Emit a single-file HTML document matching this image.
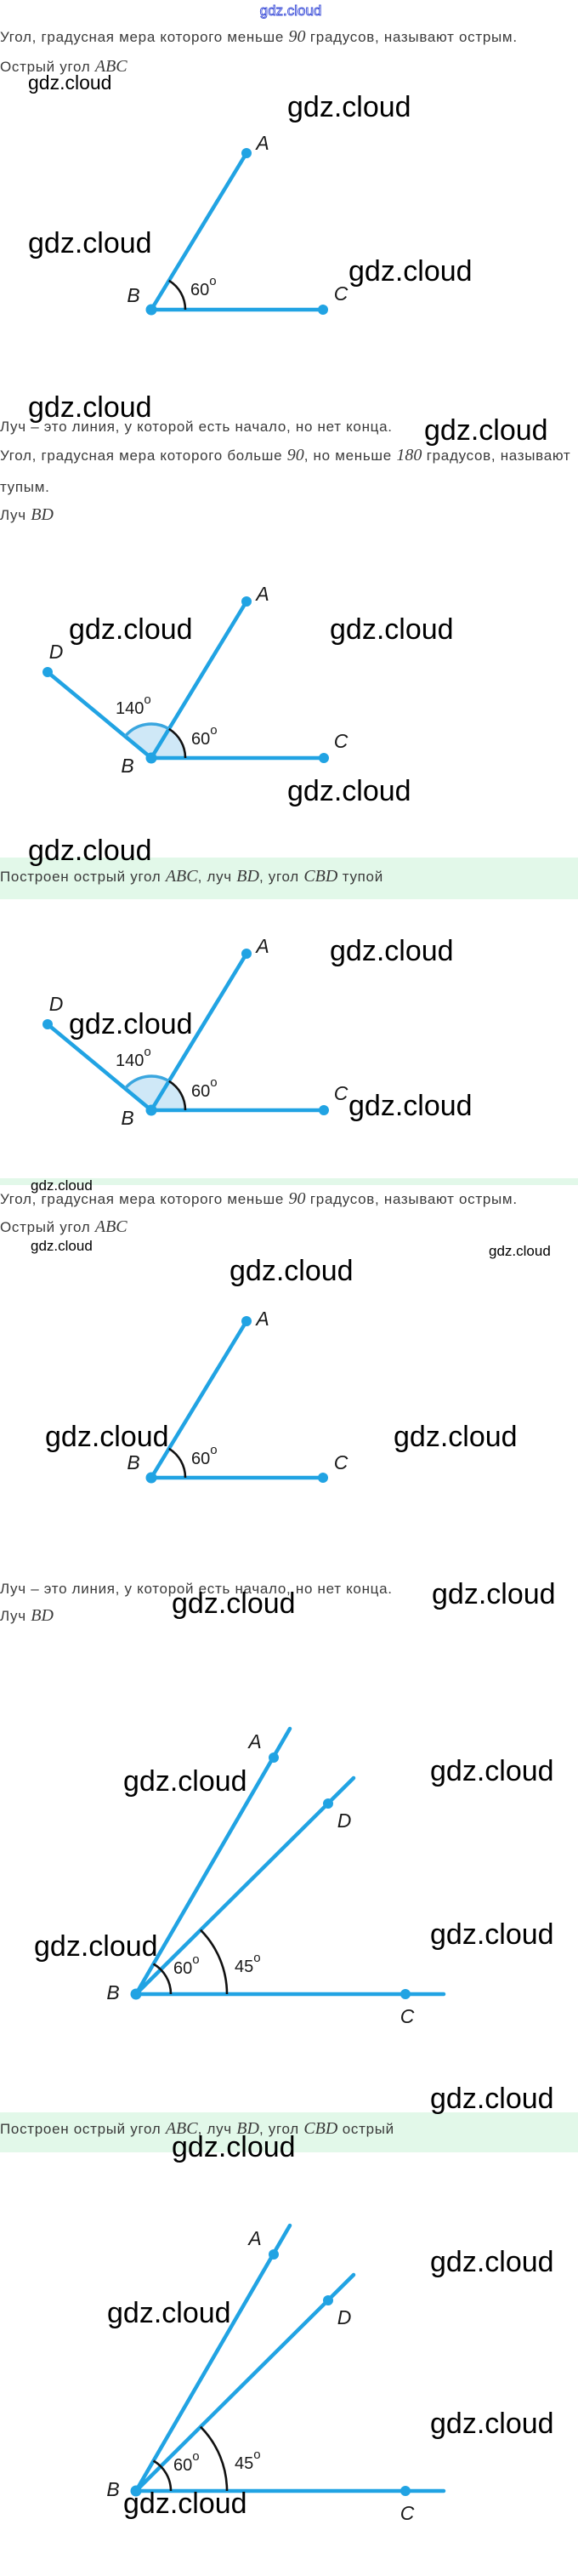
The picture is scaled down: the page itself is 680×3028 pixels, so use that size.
<!DOCTYPE html>
<html><head><meta charset="utf-8"><style>
html,body{margin:0;padding:0;background:#fff;}
svg{display:block;}
.t{font-family:"Liberation Sans","Noto Sans CJK SC",sans-serif;font-size:17px;letter-spacing:0.7px;fill:#3a3a3a;}
.m{font-family:"Liberation Serif",serif;font-style:italic;font-size:20px;letter-spacing:0;fill:#3a3a3a;}
.w{font-family:"Liberation Sans",sans-serif;fill:#000;}
.L{font-family:"Liberation Sans",sans-serif;font-style:italic;font-size:23px;fill:#1a1a1a;text-anchor:middle;}
.d{font-family:"Liberation Sans",sans-serif;font-size:20px;fill:#1a1a1a;}
.ln{stroke:#21a3e3;stroke-width:4.5;stroke-linecap:round;fill:none;}
.dot{fill:#21a3e3;}
.ar{stroke:#111;stroke-width:2.6;fill:none;}
</style></head><body>
<svg width="680" height="3028" viewBox="0 0 680 3028" xmlns="http://www.w3.org/2000/svg">
<defs>
<g id="d1">
 <path class="ln" d="M178 364 L290 180 M178 364 L380 364"/>
 <circle class="dot" cx="290" cy="180" r="6"/><circle class="dot" cx="178" cy="364" r="6.5"/><circle class="dot" cx="380" cy="364" r="6"/>
 <path class="ar" d="M218 364 A40 40 0 0 0 198.8 329.8"/>
</g>
<g id="d2">
 <path d="M178 891 L218 891 A40 40 0 0 0 147.2 865.5 Z" fill="#cfe8f7"/>
 <path class="ln" d="M178 891 L290 707 M178 891 L381 891 M178 891 L56 790"/>
 <circle class="dot" cx="290" cy="707" r="6"/><circle class="dot" cx="178" cy="891" r="6.5"/><circle class="dot" cx="381" cy="891" r="6"/><circle class="dot" cx="56" cy="790" r="6"/>
 <path d="M198.8 856.8 A40 40 0 0 0 147.2 865.5" stroke="#3aa6df" stroke-width="3.5" fill="none"/>
 <path class="ar" d="M218 891 A40 40 0 0 0 198.8 856.8"/>
 <text class="L" x="309" y="706">A</text><text class="L" x="66" y="774">D</text>
 <text class="L" x="401" y="879">C</text><text class="L" x="150" y="908">B</text>
 <text class="d" x="136" y="839">140<tspan dy="-12" font-size="15">o</tspan></text>
 <text class="d" x="225" y="875">60<tspan dy="-12" font-size="15">o</tspan></text>
</g>
<g id="d5">
 <path class="ln" d="M160 2344 L341 2032 M160 2344 L416 2090 M160 2344 L522 2344"/>
 <circle class="dot" cx="322" cy="2066" r="6"/><circle class="dot" cx="386" cy="2120" r="6"/><circle class="dot" cx="160" cy="2344" r="6.5"/><circle class="dot" cx="477" cy="2344" r="6"/>
 <path class="ar" d="M201 2344 A41 41 0 0 0 180.5 2308.5"/>
 <path class="ar" d="M267 2344 A107 107 0 0 0 235.9 2268.6"/>
 <text class="L" x="300" y="2055">A</text><text class="L" x="405" y="2148">D</text>
 <text class="L" x="479" y="2378">C</text><text class="L" x="133" y="2350">B</text>
 <text class="d" x="204" y="2320">60<tspan dy="-12" font-size="15">o</tspan></text>
 <text class="d" x="276" y="2318">45<tspan dy="-12" font-size="15">o</tspan></text>
</g>
</defs>

<text x="342" y="18" text-anchor="middle" font-family="Liberation Sans,sans-serif" font-size="17" fill="#fff" stroke="#3d4fd8" stroke-width="0.9">gdz.cloud</text>
<text class="t" x="0" y="49">Угол, градусная мера которого меньше <tspan class="m">90</tspan> градусов, называют острым.</text>
<text class="t" x="0" y="84">Острый угол <tspan class="m">ABC</tspan></text>

<use href="#d1"/>
<text class="L" x="309" y="176">A</text><text class="L" x="157" y="355">B</text><text class="L" x="401" y="353">C</text>
<text class="d" x="224" y="347">60<tspan dy="-12" font-size="15">o</tspan></text>

<text class="t" x="0" y="507">Луч – это линия, у которой есть начало, но нет конца.</text>
<text class="t" x="0" y="541">Угол, градусная мера которого больше <tspan class="m">90</tspan>, но меньше <tspan class="m">180</tspan> градусов, называют</text>
<text class="t" x="0" y="578">тупым.</text>
<text class="t" x="0" y="611">Луч <tspan class="m">BD</tspan></text>

<use href="#d2"/>

<rect x="0" y="1008" width="680" height="49" fill="#e2f8e9"/>
<text class="t" x="0" y="1036">Построен острый угол <tspan class="m">ABC</tspan>, луч <tspan class="m">BD</tspan>, угол <tspan class="m">CBD</tspan> тупой</text>

<use href="#d2" transform="translate(0,414)"/>

<rect x="0" y="1385" width="680" height="8" fill="#e2f8e9"/>
<text class="t" x="0" y="1415">Угол, градусная мера которого меньше <tspan class="m">90</tspan> градусов, называют острым.</text>
<text class="t" x="0" y="1448">Острый угол <tspan class="m">ABC</tspan></text>

<use href="#d1" transform="translate(0,1373)"/>
<text class="L" x="309" y="1558">A</text><text class="L" x="157" y="1727">B</text><text class="L" x="401" y="1727">C</text>
<text class="d" x="225" y="1721">60<tspan dy="-12" font-size="15">o</tspan></text>

<text class="t" x="0" y="1873">Луч – это линия, у которой есть начало, но нет конца.</text>
<text class="t" x="0" y="1905">Луч <tspan class="m">BD</tspan></text>

<use href="#d5"/>

<rect x="0" y="2483" width="680" height="47" fill="#e2f8e9"/>
<text class="t" x="0" y="2508">Построен острый угол <tspan class="m">ABC</tspan>, луч <tspan class="m">BD</tspan>, угол <tspan class="m">CBD</tspan> острый</text>

<use href="#d5" transform="translate(0,584)"/>

<g class="w" font-size="34">
<text x="338" y="137">gdz.cloud</text>
<text x="33" y="297">gdz.cloud</text>
<text x="410" y="330">gdz.cloud</text>
<text x="33" y="490">gdz.cloud</text>
<text x="499" y="517">gdz.cloud</text>
<text x="81" y="751">gdz.cloud</text>
<text x="388" y="751">gdz.cloud</text>
<text x="338" y="941">gdz.cloud</text>
<text x="33" y="1011">gdz.cloud</text>
<text x="388" y="1129">gdz.cloud</text>
<text x="81" y="1215">gdz.cloud</text>
<text x="410" y="1311">gdz.cloud</text>
<text x="270" y="1505">gdz.cloud</text>
<text x="53" y="1700">gdz.cloud</text>
<text x="463" y="1700">gdz.cloud</text>
<text x="202" y="1896">gdz.cloud</text>
<text x="508" y="1885">gdz.cloud</text>
<text x="145" y="2105">gdz.cloud</text>
<text x="506" y="2093">gdz.cloud</text>
<text x="40" y="2299">gdz.cloud</text>
<text x="506" y="2285">gdz.cloud</text>
<text x="506" y="2478">gdz.cloud</text>
<text x="202" y="2535">gdz.cloud</text>
<text x="506" y="2670">gdz.cloud</text>
<text x="126" y="2730">gdz.cloud</text>
<text x="506" y="2860">gdz.cloud</text>
<text x="145" y="2954">gdz.cloud</text>
</g>
<g class="w">
<text x="33" y="105" font-size="23">gdz.cloud</text>
<text x="36" y="1399" font-size="17">gdz.cloud</text>
<text x="575" y="1476" font-size="17">gdz.cloud</text>
<text x="36" y="1470" font-size="17">gdz.cloud</text>
</g>
</svg>
</body></html>
